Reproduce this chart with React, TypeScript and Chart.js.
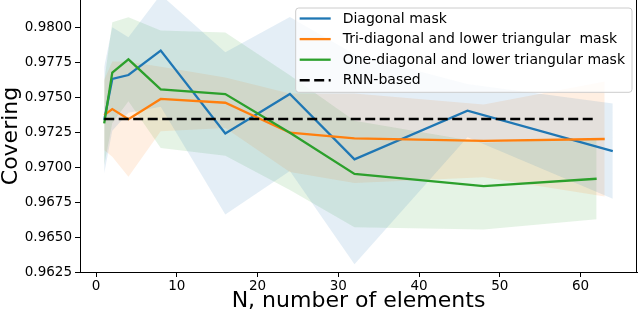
import React, { useEffect, useRef } from 'react';
import { Chart, registerables } from 'chart.js';

Chart.register(...registerables);

// ---- data ----
const blueX = [1, 2, 4, 8, 16, 24, 32, 46, 64];
const blueMean = [0.97336, 0.97629, 0.97657, 0.97831, 0.9724, 0.97521, 0.97055, 0.97402, 0.97114];
const blueSd = [0.0038, 0.0037, 0.0027, 0.004, 0.0058, 0.0055, 0.0075, 0.0019, 0.0034];

const orangeX = [1, 2, 4, 8, 16, 24, 32, 48, 63];
const orangeMean = [0.97371, 0.97414, 0.97341, 0.97486, 0.97459, 0.97245, 0.97205, 0.97186, 0.972];
const orangeSd = [0.0025, 0.0034, 0.0041, 0.0023, 0.0018, 0.0028, 0.0032, 0.0026, 0.0041];

const greenX = [1, 2, 4, 8, 16, 24, 32, 48, 62];
const greenMean = [0.97312, 0.97674, 0.97769, 0.97555, 0.97521, 0.97245, 0.9695, 0.96864, 0.96916];
const greenSd = [0.003, 0.0036, 0.003, 0.0042, 0.0044, 0.0041, 0.0038, 0.0031, 0.0029];

const rnnX = [1, 62];
const rnnY = [0.97343, 0.97343];

const xTicks = [0, 10, 20, 30, 40, 50, 60];
const yTicks = [0.9625, 0.965, 0.9675, 0.97, 0.9725, 0.975, 0.9775, 0.98];

const seriesLabels = [
  'Diagonal mask',
  'Tri-diagonal and lower triangular  mask',
  'One-diagonal and lower triangular mask',
  'RNN-based',
];

const BLUE = '#1f77b4';
const ORANGE = '#ff7f0e';
const GREEN = '#2ca02c';
const FONT = "'DejaVu Sans', sans-serif";

const pts = (xs: number[], ys: number[]) => xs.map((x, i) => ({ x, y: ys[i] }));
const shifted = (xs: number[], m: number[], s: number[], sign: number) =>
  xs.map((x, i) => ({ x, y: m[i] + sign * s[i] }));

const legendPlugin = {
  id: 'customLegend',
  afterDraw(chart: any) {
    const ctx = chart.ctx as CanvasRenderingContext2D;
    const ca = chart.chartArea;
    ctx.save();
    // right spine
    ctx.strokeStyle = '#000';
    ctx.lineWidth = 1;
    ctx.beginPath();
    ctx.moveTo(Math.round(ca.right) - 0.5, ca.top);
    ctx.lineTo(Math.round(ca.right) - 0.5, ca.bottom);
    ctx.stroke();

    // legend
    ctx.font = `14px ${FONT}`;
    const maxW = Math.max(...seriesLabels.map((l) => ctx.measureText(l).width));
    const x1 = ca.right - 5;
    const textX = x1 - 7 - maxW;
    const hx0 = textX - 43;
    const hx1 = textX - 12;
    const x0 = textX - 47;
    const y0 = ca.top + 8;
    const rowH = 20.6;
    const y1 = y0 + 10.5 + rowH * 3 + 12;
    const r = 3;
    ctx.beginPath();
    ctx.moveTo(x0 + r, y0);
    ctx.lineTo(x1 - r, y0);
    ctx.arcTo(x1, y0, x1, y0 + r, r);
    ctx.lineTo(x1, y1 - r);
    ctx.arcTo(x1, y1, x1 - r, y1, r);
    ctx.lineTo(x0 + r, y1);
    ctx.arcTo(x0, y1, x0, y1 - r, r);
    ctx.lineTo(x0, y0 + r);
    ctx.arcTo(x0, y0, x0 + r, y0, r);
    ctx.closePath();
    ctx.fillStyle = 'rgba(255,255,255,0.8)';
    ctx.fill();
    ctx.strokeStyle = '#cccccc';
    ctx.lineWidth = 1;
    ctx.stroke();

    const colors = [BLUE, ORANGE, GREEN, '#000'];
    seriesLabels.forEach((label, i) => {
      const cy = y0 + 10.5 + rowH * i;
      ctx.beginPath();
      ctx.strokeStyle = colors[i];
      ctx.lineWidth = i === 3 ? 2.5 : 2.3;
      ctx.setLineDash(i === 3 ? [10, 4.5] : []);
      ctx.moveTo(hx0, cy);
      ctx.lineTo(hx1, cy);
      ctx.stroke();
      ctx.setLineDash([]);
      ctx.fillStyle = '#000';
      ctx.textBaseline = 'middle';
      ctx.textAlign = 'left';
      ctx.fillText(label, textX, cy + 0.5);
    });
    ctx.restore();
  },
};

export default function App() {
  const ref = useRef<HTMLCanvasElement | null>(null);

  useEffect(() => {
    document.body.style.margin = '0';
    if (!ref.current) return;
    const band = (xs: number[], m: number[], s: number[], color: string, order: number) => [
      {
        data: shifted(xs, m, s, 1),
        borderWidth: 0,
        pointRadius: 0,
        fill: false,
        order,
      },
      {
        data: shifted(xs, m, s, -1),
        borderWidth: 0,
        pointRadius: 0,
        fill: '-1',
        backgroundColor: color,
        order,
      },
    ];
    const line = (xs: number[], ys: number[], color: string, order: number, dash: number[] = []) => ({
      data: pts(xs, ys),
      borderColor: color,
      borderWidth: dash.length ? 2.5 : 2.3,
      borderDash: dash,
      pointRadius: 0,
      fill: false,
      tension: 0,
      order,
    });

    const chart = new Chart(ref.current, {
      type: 'line',
      data: {
        datasets: [
          line(rnnX, rnnY, '#000', 1, [10, 4.5]),
          line(greenX, greenMean, GREEN, 2),
          line(orangeX, orangeMean, ORANGE, 3),
          line(blueX, blueMean, BLUE, 4),
          ...band(blueX, blueMean, blueSd, 'rgba(31,119,180,0.12)', 10),
          ...band(orangeX, orangeMean, orangeSd, 'rgba(255,127,14,0.12)', 11),
          ...band(greenX, greenMean, greenSd, 'rgba(44,160,44,0.12)', 12),
        ] as any,
      },
      options: {
        animation: false,
        responsive: false,
        devicePixelRatio: 1,
        layout: { autoPadding: false, padding: { left: 0, right: 3, top: 0, bottom: 0 } },
        plugins: {
          legend: { display: false },
          tooltip: { enabled: false },
          filler: { drawTime: 'beforeDatasetsDraw' },
        } as any,
        scales: {
          x: {
            type: 'linear',
            min: -2.0,
            max: 67.0,
            afterBuildTicks: (s: any) => {
              s.ticks = xTicks.map((v) => ({ value: v }));
            },
            afterFit: (s: any) => {
              s.height = 41;
              s.paddingLeft = 0;
              s.paddingRight = 0;
            },
            grid: { display: true, drawOnChartArea: false, drawTicks: true, tickLength: 5, color: '#000' },
            border: { display: true, color: '#000', width: 1 },
            ticks: {
              color: '#000',
              padding: 1,
              font: { family: FONT, size: 13.5 },
              maxRotation: 0,
              callback: (v: any) => String(v),
            },
            title: {
              display: true,
              text: 'N, number of elements',
              color: '#000',
              font: { family: FONT, size: 22, lineHeight: 1.1 },
              padding: 0,
            },
          },
          y: {
            type: 'linear',
            min: 0.9625,
            max: 0.981929,
            afterBuildTicks: (s: any) => {
              s.ticks = yTicks.map((v) => ({ value: v }));
            },
            afterFit: (s: any) => {
              s.width = 80;
              s.paddingTop = 0;
              s.paddingBottom = 0;
            },
            grid: { display: true, drawOnChartArea: false, drawTicks: true, tickLength: 5, color: '#000' },
            border: { display: true, color: '#000', width: 1 },
            ticks: {
              color: '#000',
              padding: 3,
              font: { family: FONT, size: 13.5 },
              callback: (v: any) => Number(v).toFixed(4),
            },
            title: {
              display: true,
              text: 'Covering',
              color: '#000',
              font: { family: FONT, size: 22, lineHeight: 1.0 },
              padding: 0,
            },
          },
        },
      } as any,
      plugins: [legendPlugin],
    });
    return () => chart.destroy();
  }, []);

  return (
    <div style={{ width: 640, height: 313 }}>
      <canvas ref={ref} width={640} height={313} style={{ width: 640, height: 313, display: 'block' }} />
    </div>
  );
}
